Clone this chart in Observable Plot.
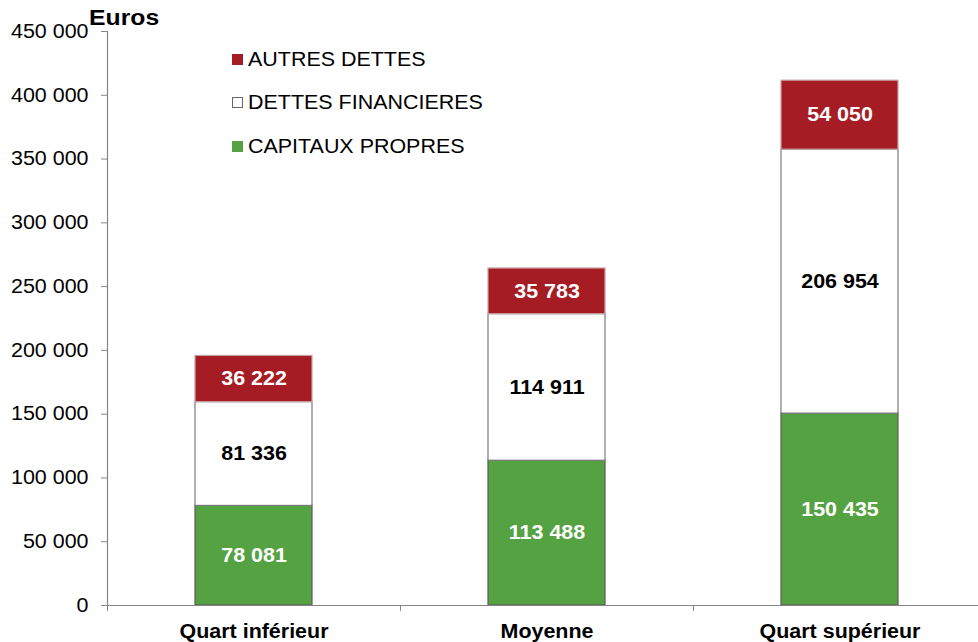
<!DOCTYPE html>
<html>
<head>
<meta charset="utf-8">
<script src="https://cdn.jsdelivr.net/npm/d3@7"></script>
<script src="https://cdn.jsdelivr.net/npm/@observablehq/plot@0.6"></script>
<style>
  html, body { margin: 0; padding: 0; background: #fff; }
  #wrap { position: relative; width: 978px; height: 642px; overflow: hidden; font-family: "Liberation Sans", Arial, sans-serif; }
  #unit { position: absolute; left: 89px; top: 5px; font-size: 22.5px; font-weight: bold; color: #000; transform: scaleX(1.1); transform-origin: left center; }
  .leg { position: absolute; left: 232px; font-size: 19.5px; color: #000; display: flex; align-items: center; white-space: nowrap; }
  .sw { width: 11px; height: 11px; margin-right: 5px; box-sizing: border-box; flex: none; }
  .lt { display: inline-block; transform: scaleX(1.1); transform-origin: left center; }
</style>
</head>
<body>
<div id="wrap"></div>
<script>
const categories = ["Quart inférieur", "Moyenne", "Quart supérieur"];
const seriesNames = ["CAPITAUX PROPRES", "DETTES FINANCIERES", "AUTRES DETTES"];
const capitauxPropres = [78081, 113488, 150435];
const dettesFinancieres = [81336, 114911, 206954];
const autresDettes = [36222, 35783, 54050];
const yTicks = [0, 50000, 100000, 150000, 200000, 250000, 300000, 350000, 400000, 450000];
const legendOrder = ["AUTRES DETTES", "DETTES FINANCIERES", "CAPITAUX PROPRES"];

const fillOf = {"CAPITAUX PROPRES": "#55a243", "DETTES FINANCIERES": "#ffffff", "AUTRES DETTES": "#a51c24"};
const strokeOf = {"CAPITAUX PROPRES": "#5a5a5a", "DETTES FINANCIERES": "#7a7a7a", "AUTRES DETTES": "#c9a0a2"};
const textOf = {"CAPITAUX PROPRES": "#ffffff", "DETTES FINANCIERES": "#000000", "AUTRES DETTES": "#ffffff"};

const seriesValues = [capitauxPropres, dettesFinancieres, autresDettes];
const rows = [];
categories.forEach((c, i) => {
  seriesNames.forEach((s, j) => rows.push({cat: c, series: s, value: seriesValues[j][i]}));
});

const fmt = d => d3.format(",")(d).replace(/,/g, " ");

const plot = Plot.plot({
  width: 978,
  height: 642,
  marginLeft: 107,
  marginRight: 0,
  marginTop: 31,
  marginBottom: 37,
  style: {fontFamily: "'Liberation Sans', Arial, sans-serif", fontSize: "18px", color: "#000", background: "transparent", overflow: "visible"},
  x: {domain: categories, range: [107, 986], paddingInner: 0.6, paddingOuter: 0.3, label: null},
  y: {domain: [0, 450000], label: null},
  color: {type: "identity"},
  marks: [
    Plot.barY(rows, {x: "cat", y: "value", z: "series", fill: d => fillOf[d.series], stroke: d => strokeOf[d.series], strokeWidth: 1.2}),
    Plot.text(rows, Plot.stackY({x: "cat", y: "value", z: "series", text: d => fmt(d.value), fill: d => textOf[d.series], fontWeight: "bold", fontSize: 19.5})),
    Plot.ruleY([0], {stroke: "#868686", strokeWidth: 1.2}),
    Plot.axisY({ticks: yTicks, tickFormat: fmt, tickSize: 6, tickPadding: 13, stroke: "#868686", fill: "#000", fontSize: 19.5}),
    Plot.frame({anchor: "left", stroke: "#868686", strokeWidth: 1.2}),
    Plot.axisX({tickSize: 0, tickPadding: 19, fontWeight: "bold", fontSize: 19.5, fill: "#000"}),
    Plot.axisX({tickSize: 6, text: null, dx: -146.5, stroke: "#868686"})
  ]
});

const wrap = document.getElementById("wrap");
wrap.appendChild(plot);

// widen glyphs horizontally, as in the reference rendering
plot.querySelectorAll("text").forEach(t => {
  const w = t.getComputedTextLength();
  if (w > 0) {
    t.setAttribute("textLength", (w * 1.1).toFixed(2));
    t.setAttribute("lengthAdjust", "spacingAndGlyphs");
  }
});

const unit = document.createElement("div");
unit.id = "unit";
unit.textContent = "Euros";
wrap.appendChild(unit);

const legTops = [48, 91, 135];
legendOrder.forEach((s, i) => {
  const item = document.createElement("div");
  item.className = "leg";
  item.style.top = legTops[i] + "px";
  const sw = document.createElement("span");
  sw.className = "sw";
  sw.style.background = fillOf[s];
  sw.style.border = "1px solid " + (s === "DETTES FINANCIERES" ? "#666" : fillOf[s]);
  const t = document.createElement("span");
  t.className = "lt";
  t.textContent = s;
  item.appendChild(sw);
  item.appendChild(t);
  wrap.appendChild(item);
});
</script>
</body>
</html>
